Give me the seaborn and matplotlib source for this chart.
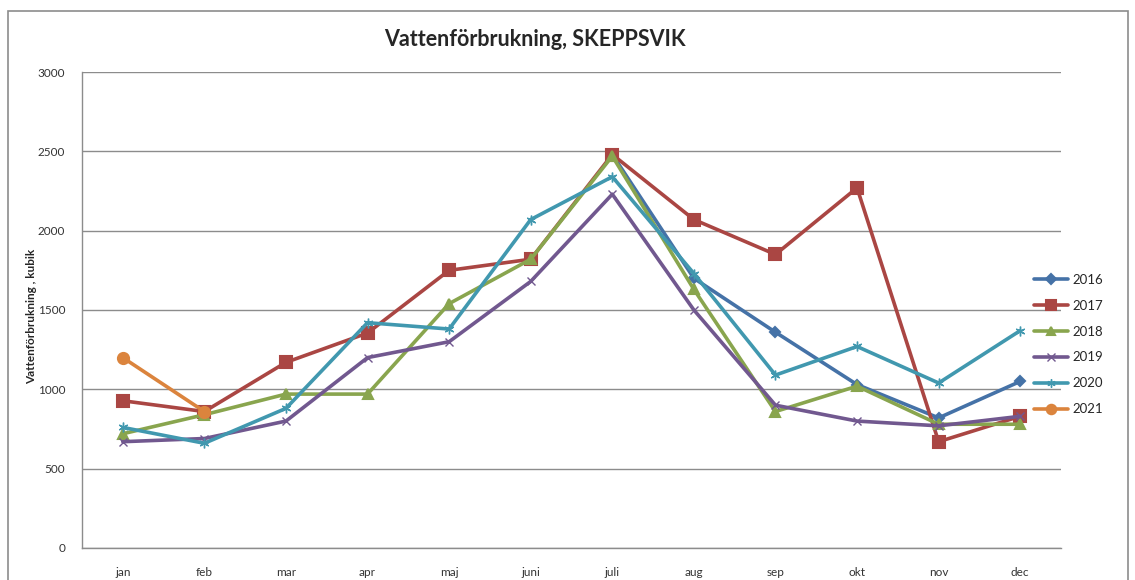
import numpy as np
import pandas as pd
import matplotlib
matplotlib.use("Agg")
import matplotlib.pyplot as plt
import seaborn as sns
from matplotlib.patches import Rectangle

# %% data
manader = ['jan', 'feb', 'mar', 'apr', 'maj', 'juni', 'juli', 'aug', 'sep', 'okt', 'nov', 'dec']
ar = ['2016', '2017', '2018', '2019', '2020', '2021']

v2016 = [None, None, None, None, None, None, 2480, 1700, 1360, 1030, 820, 1050]
v2017 = [928, 860, 1170, 1355, 1750, 1820, 2480, 2070, 1850, 2270, 670, 830]
v2018 = [720, 840, 970, 970, 1540, 1820, 2470, 1630, 860, 1020, 780, 780]
v2019 = [670, 690, 800, 1200, 1300, 1680, 2230, 1500, 900, 800, 770, 830]
v2020 = [760, 660, 880, 1420, 1380, 2070, 2340, 1730, 1090, 1270, 1040, 1370]
v2021 = [1200, 860, None, None, None, None, None, None, None, None, None, None]

serier = [v2016, v2017, v2018, v2019, v2020, v2021]
farger = ['#4572A7', '#AA4643', '#89A54E', '#71588F', '#4198AF', '#DB843D']
markorer = ['D', 's', '^', 'x', (6, 2, 0), 'o']
storlek = [5.5, 8, 7, 6, 7, 8]
kant = [1.5, 1.5, 1.5, 1.0, 1.0, 1.5]

# %% long format
rader = []
for a, vals in zip(ar, serier):
    for i, v in enumerate(vals):
        if v is not None:
            rader.append({'manad': i, 'ar': a, 'kubik': v})
df = pd.DataFrame(rader)

# %% plot
sns.set_style('white')
plt.rcParams['font.family'] = ['Lato', 'DejaVu Sans']

fig = plt.figure(figsize=(11.35, 5.8), dpi=100)
ax = fig.add_axes([82 / 1135, 32 / 580, (1061 - 82) / 1135, (548 - 72) / 580])

for a, c, m, s, k in zip(ar, farger, markorer, storlek, kant):
    sub = df[df['ar'] == a]
    sns.lineplot(data=sub, x='manad', y='kubik', ax=ax, color=c, marker=m,
                 markersize=s, markeredgecolor=c, markeredgewidth=k,
                 linewidth=2.6, label=a, sort=False)

ax.set_xlim(-0.5, 11.5)
ax.set_ylim(0, 3000)
ax.set_yticks(range(0, 3001, 500))
ax.set_xticks(range(12))
ax.set_xticklabels(manader)
ax.tick_params(axis='both', length=0, labelsize=8.5, colors='#333333')
ax.tick_params(axis='x', pad=14)
ax.tick_params(axis='y', pad=12)
ax.yaxis.grid(True, color='#8c8c8c', linewidth=1)
ax.set_axisbelow(True)
for sp in ['top', 'right']:
    ax.spines[sp].set_visible(False)
for sp in ['left', 'bottom']:
    ax.spines[sp].set_color('#8c8c8c')
    ax.spines[sp].set_linewidth(1)
ax.set_xlabel('')
ax.set_ylabel('')

fig.text(32 / 1135, (580 - 316) / 580, 'Vattenförbrukning , kubik', rotation=90,
         ha='center', va='center', fontsize=8.5, fontweight='bold')
fig.text(535 / 1135, (580 - 40) / 580, 'Vattenförbrukning, SKEPPSVIK',
         ha='center', va='center', fontsize=15.5, fontweight='bold')

ax.legend(loc='upper left', bbox_to_anchor=(1022 / 1135, (580 - 262) / 580),
          bbox_transform=fig.transFigure, frameon=False, fontsize=9.5,
          handlelength=2.6, labelspacing=1.05, handletextpad=0.3, markerscale=0.85)

fig.patches.append(Rectangle((8 / 1135, -0.05), (1128 - 8) / 1135, (580 - 11) / 580 + 0.05,
                             transform=fig.transFigure, fill=False,
                             edgecolor='#8c8c8c', linewidth=1.2))

fig.savefig('out.png', dpi=100)
